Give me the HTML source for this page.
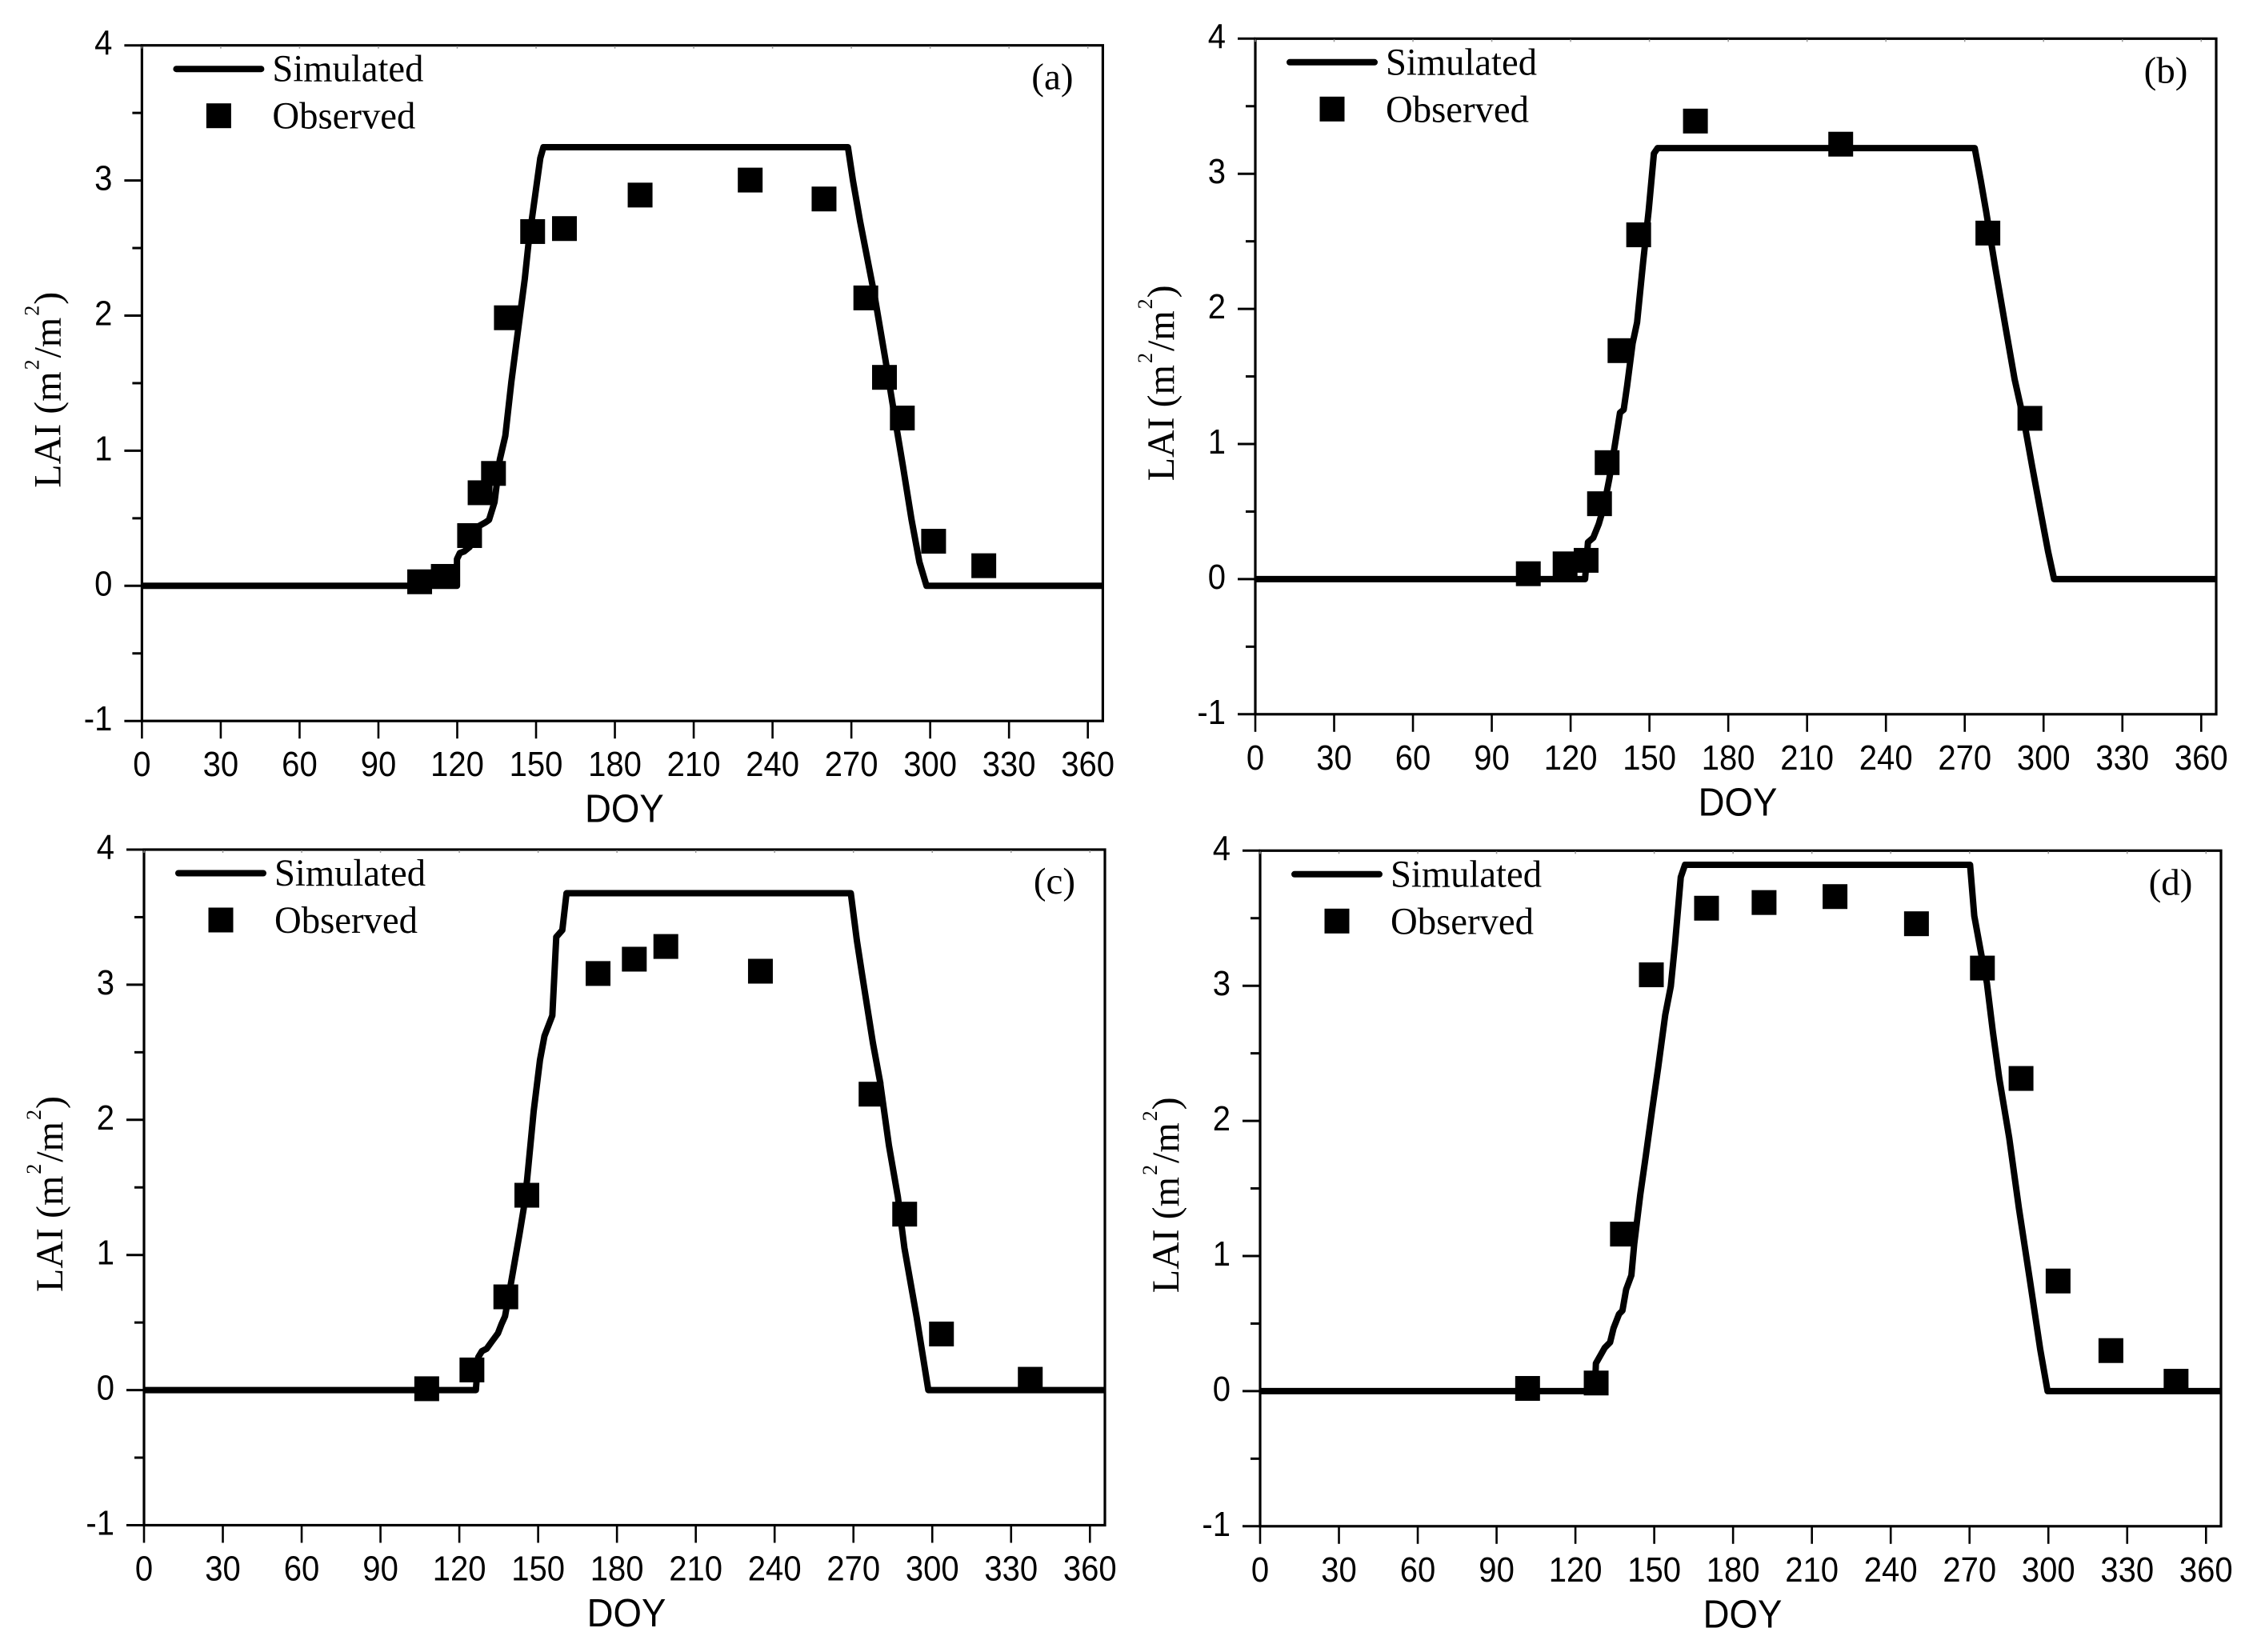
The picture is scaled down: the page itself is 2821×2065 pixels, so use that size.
<!DOCTYPE html>
<html lang="en">
<head>
<meta charset="utf-8">
<title>LAI simulated vs observed</title>
<style>
  html, body { margin: 0; padding: 0; background: #fff; }
  svg { display: block; }
  .tick { font-family: "Liberation Sans", Arial, sans-serif; font-size: 44px; fill: #000; }
  .doy { font-family: "Liberation Sans", Arial, sans-serif; font-size: 49px; fill: #000; }
  .serif { font-family: "Liberation Serif", "Times New Roman", serif; fill: #000; }
  .legend { font-size: 48px; }
  .tag { font-size: 47px; }
  .ytitle { font-size: 48px; }
  .sup { font-size: 26px; }
</style>
</head>
<body>
<svg id="figure" xmlns="http://www.w3.org/2000/svg" width="2821" height="2065" viewBox="0 0 2821 2065">
  <rect width="2821" height="2065" fill="#fff"/>

  <g id="panel-a" transform="translate(177.4,56.7)">
    <text class="serif ytitle" transform="translate(-102,553) rotate(-90)">LAI (m<tspan class="sup" dx="2" dy="-27">2</tspan><tspan dx="2" dy="27">/m</tspan><tspan class="sup" dx="2" dy="-27">2</tspan><tspan dx="1" dy="27">)</tspan></text>
    <text class="doy" transform="translate(603,971) scale(.93,1)" text-anchor="middle">DOY</text>
    <text class="serif tag" x="1138" y="55" text-anchor="middle">(a)</text>
    <line x1="43" x2="149" y1="29.5" y2="29.5" stroke="#000" stroke-width="8" stroke-linecap="round"/>
    <text class="serif legend" x="163" y="45" textLength="189" lengthAdjust="spacingAndGlyphs">Simulated</text>
    <rect x="80.5" y="72.5" width="31" height="31" fill="#000"/>
    <text class="serif legend" x="163" y="104" textLength="179" lengthAdjust="spacingAndGlyphs">Observed</text>
  </g>

  <g id="panel-b" transform="translate(1569,48.3)">
    <text class="serif ytitle" transform="translate(-102,553) rotate(-90)">LAI (m<tspan class="sup" dx="2" dy="-27">2</tspan><tspan dx="2" dy="27">/m</tspan><tspan class="sup" dx="2" dy="-27">2</tspan><tspan dx="1" dy="27">)</tspan></text>
    <text class="doy" transform="translate(603,971) scale(.93,1)" text-anchor="middle">DOY</text>
    <text class="serif tag" x="1138" y="55" text-anchor="middle">(b)</text>
    <line x1="43" x2="149" y1="29.5" y2="29.5" stroke="#000" stroke-width="8" stroke-linecap="round"/>
    <text class="serif legend" x="163" y="45" textLength="189" lengthAdjust="spacingAndGlyphs">Simulated</text>
    <rect x="80.5" y="72.5" width="31" height="31" fill="#000"/>
    <text class="serif legend" x="163" y="104" textLength="179" lengthAdjust="spacingAndGlyphs">Observed</text>
  </g>

  <g id="panel-c" transform="translate(180,1062)">
    <text class="serif ytitle" transform="translate(-102,553) rotate(-90)">LAI (m<tspan class="sup" dx="2" dy="-27">2</tspan><tspan dx="2" dy="27">/m</tspan><tspan class="sup" dx="2" dy="-27">2</tspan><tspan dx="1" dy="27">)</tspan></text>
    <text class="doy" transform="translate(603,971) scale(.93,1)" text-anchor="middle">DOY</text>
    <text class="serif tag" x="1138" y="55" text-anchor="middle">(c)</text>
    <line x1="43" x2="149" y1="29.5" y2="29.5" stroke="#000" stroke-width="8" stroke-linecap="round"/>
    <text class="serif legend" x="163" y="45" textLength="189" lengthAdjust="spacingAndGlyphs">Simulated</text>
    <rect x="80.5" y="72.5" width="31" height="31" fill="#000"/>
    <text class="serif legend" x="163" y="104" textLength="179" lengthAdjust="spacingAndGlyphs">Observed</text>
  </g>

  <g id="panel-d" transform="translate(1575,1063.3)">
    <text class="serif ytitle" transform="translate(-102,553) rotate(-90)">LAI (m<tspan class="sup" dx="2" dy="-27">2</tspan><tspan dx="2" dy="27">/m</tspan><tspan class="sup" dx="2" dy="-27">2</tspan><tspan dx="1" dy="27">)</tspan></text>
    <text class="doy" transform="translate(603,971) scale(.93,1)" text-anchor="middle">DOY</text>
    <text class="serif tag" x="1138" y="55" text-anchor="middle">(d)</text>
    <line x1="43" x2="149" y1="29.5" y2="29.5" stroke="#000" stroke-width="8" stroke-linecap="round"/>
    <text class="serif legend" x="163" y="45" textLength="189" lengthAdjust="spacingAndGlyphs">Simulated</text>
    <rect x="80.5" y="72.5" width="31" height="31" fill="#000"/>
    <text class="serif legend" x="163" y="104" textLength="179" lengthAdjust="spacingAndGlyphs">Observed</text>
  </g>
</svg>

<script>
// Axis values
const xTickValues = [0, 30, 60, 90, 120, 150, 180, 210, 240, 270, 300, 330, 360];
const yMajorValues = [-1, 0, 1, 2, 3, 4];
const yMinorValues = [-0.5, 0.5, 1.5, 2.5, 3.5];
const xDomain = [0, 365.7];
const yDomain = [-1, 4];

// Panel (a)
const simDoyA = [0, 119.9, 119.9, 121, 122.6, 124.7, 128, 130.8, 132.1, 134.2, 136.2, 138.3, 140.6, 143, 145.7, 147.1, 151.6, 152.8, 268.7, 270.6, 273.3, 278.9, 283, 286.5, 289.6, 292.9, 295.9, 298.6, 365.7];
const simLaiA = [0, 0, 0.198, 0.243, 0.254, 0.287, 0.44, 0.47, 0.488, 0.62, 0.934, 1.11, 1.51, 1.87, 2.27, 2.53, 3.164, 3.246, 3.246, 3.0, 2.7, 2.14, 1.67, 1.25, 0.89, 0.49, 0.176, 0, 0];
const obsDoyA = [105.7, 114.7, 124.7, 128.7, 133.8, 138.7, 148.7, 160.8, 189.6, 231.5, 259.6, 275.5, 282.6, 289.4, 301.3, 320.4];
const obsLaiA = [0.03, 0.07, 0.372, 0.689, 0.832, 1.984, 2.622, 2.644, 2.892, 3.003, 2.863, 2.131, 1.543, 1.242, 0.33, 0.149];

// Panel (b)
const simDoyB = [0, 125.5, 126.6, 128.6, 130.7, 132.7, 134.7, 136.8, 138.8, 140.2, 141.5, 143.6, 145.3, 147.6, 149.7, 151.7, 153.1, 273.8, 276.1, 278.1, 281.5, 285.6, 289, 292.6, 295.7, 298.9, 301.7, 304, 365.7];
const simLaiB = [0, 0, 0.273, 0.306, 0.407, 0.54, 0.74, 0.987, 1.232, 1.254, 1.43, 1.745, 1.9, 2.347, 2.726, 3.15, 3.19, 3.19, 2.95, 2.726, 2.32, 1.856, 1.477, 1.165, 0.83, 0.496, 0.206, 0, 0];
const obsDoyB = [103.9, 117.9, 125.9, 131, 133.9, 138.8, 145.9, 167.5, 222.8, 278.8, 294.8];
const obsLaiB = [0.04, 0.113, 0.139, 0.558, 0.862, 1.691, 2.548, 3.39, 3.219, 2.561, 1.19];

// Panel (c)
const simDoyC = [0, 126.3, 127.2, 128.6, 130.4, 132.3, 134.7, 136.1, 137.4, 139.5, 142.9, 144.5, 145.8, 148.3, 150.7, 152.4, 155.4, 156.9, 159.2, 160.8, 269, 271.3, 273.3, 277.4, 280.1, 283.5, 286.9, 289.4, 294, 298.5, 365.7];
const simLaiC = [0, 0, 0.243, 0.288, 0.306, 0.357, 0.42, 0.49, 0.546, 0.774, 1.153, 1.343, 1.558, 2.064, 2.443, 2.62, 2.772, 3.353, 3.404, 3.677, 3.677, 3.328, 3.075, 2.57, 2.286, 1.811, 1.431, 1.052, 0.546, 0, 0];
const obsDoyC = [107.6, 124.8, 137.7, 145.7, 172.8, 186.6, 198.6, 234.6, 276.7, 289.5, 303.5, 337.3];
const obsLaiC = [0.01, 0.149, 0.69, 1.442, 3.083, 3.189, 3.283, 3.1, 2.19, 1.302, 0.415, 0.08];

// Panel (d)
const simDoyD = [0, 127.4, 127.8, 131.2, 133.2, 134.5, 136.6, 137.9, 139.3, 141.3, 142.4, 144.7, 146.8, 149.2, 151.5, 154.2, 156.3, 157.9, 160.1, 161.7, 270.2, 271.8, 274.5, 276.6, 278.9, 281.3, 285.1, 288.8, 292.9, 296.9, 299.7, 365.7];
const simLaiD = [0, 0, 0.205, 0.322, 0.361, 0.465, 0.57, 0.596, 0.752, 0.857, 1.091, 1.456, 1.743, 2.082, 2.395, 2.786, 2.995, 3.308, 3.804, 3.895, 3.895, 3.517, 3.23, 3.021, 2.656, 2.317, 1.874, 1.352, 0.83, 0.309, 0, 0];
const obsDoyD = [101.8, 127.9, 137.9, 148.9, 169.9, 191.8, 218.8, 249.8, 274.9, 289.6, 303.7, 323.8, 348.6];
const obsLaiD = [0.02, 0.06, 1.162, 3.081, 3.574, 3.616, 3.66, 3.459, 3.131, 2.314, 0.815, 0.3, 0.073];

const SVG_NS = 'http://www.w3.org/2000/svg';
const PLOT_W = 1201;
const PLOT_H = 844.5;

function xScale(v) { return (v - xDomain[0]) / (xDomain[1] - xDomain[0]) * PLOT_W; }
function yScale(v) { return (yDomain[1] - v) / (yDomain[1] - yDomain[0]) * PLOT_H; }

function make(tag, attrs) {
  const node = document.createElementNS(SVG_NS, tag);
  for (const key in attrs) node.setAttribute(key, attrs[key]);
  return node;
}

function drawPanel(id, simDoy, simLai, obsDoy, obsLai) {
  const g = document.getElementById(id);

  // Frame
  const frame = make('rect', { x: 0, y: 0, width: PLOT_W, height: PLOT_H, fill: 'none', stroke: '#000', 'stroke-width': 3.2 });
  
  
  g.appendChild(frame);

  // X ticks
  xTickValues.forEach(function (v) {
    const tick = make('line', { x1: xScale(v), x2: xScale(v), y1: PLOT_H, y2: PLOT_H + 22, stroke: '#000', 'stroke-width': 2.6 });
    
    
    g.appendChild(tick);

    const topStub = make('line', { x1: xScale(v), x2: xScale(v), y1: 1, y2: 4, stroke: '#999', 'stroke-width': 1.5 });
    
    
    g.appendChild(topStub);

    const label = make('text', { transform: 'translate(' + xScale(v) + ',' + (PLOT_H + 69) + ') scale(.91,1)', 'text-anchor': 'middle', class: 'tick' });
    
    
    label.textContent = String(v);
    g.appendChild(label);
  });

  // Y major ticks
  yMajorValues.forEach(function (v) {
    const tick = make('line', { x1: -22, x2: 0, y1: yScale(v), y2: yScale(v), stroke: '#000', 'stroke-width': 3 });
    
    
    g.appendChild(tick);

    const label = make('text', { transform: 'translate(-37,' + (yScale(v) + 12) + ') scale(.91,1)', 'text-anchor': 'end', class: 'tick' });
    
    
    label.textContent = String(v);
    g.appendChild(label);
  });

  // Y minor ticks
  yMinorValues.forEach(function (v) {
    const tick = make('line', { x1: -12, x2: 0, y1: yScale(v), y2: yScale(v), stroke: '#000', 'stroke-width': 3 });
    
    
    g.appendChild(tick);
  });

  // Simulated line
  const points = simDoy.map(function (d, i) { return xScale(d) + ',' + yScale(simLai[i]); }).join(' ');
  const line = make('polyline', { points: points, fill: 'none', stroke: '#000', 'stroke-width': 8, 'stroke-linejoin': 'round' });
  
  
  g.appendChild(line);

  // Observed markers
  obsDoy.forEach(function (d, i) {
    const marker = make('rect', { x: xScale(d) - 15.5, y: yScale(obsLai[i]) - 15.5, width: 31, height: 31, fill: '#000' });
    
    
    g.appendChild(marker);
  });
}

drawPanel('panel-a', simDoyA, simLaiA, obsDoyA, obsLaiA);
drawPanel('panel-b', simDoyB, simLaiB, obsDoyB, obsLaiB);
drawPanel('panel-c', simDoyC, simLaiC, obsDoyC, obsLaiC);
drawPanel('panel-d', simDoyD, simLaiD, obsDoyD, obsLaiD);
</script>
</body>
</html>
